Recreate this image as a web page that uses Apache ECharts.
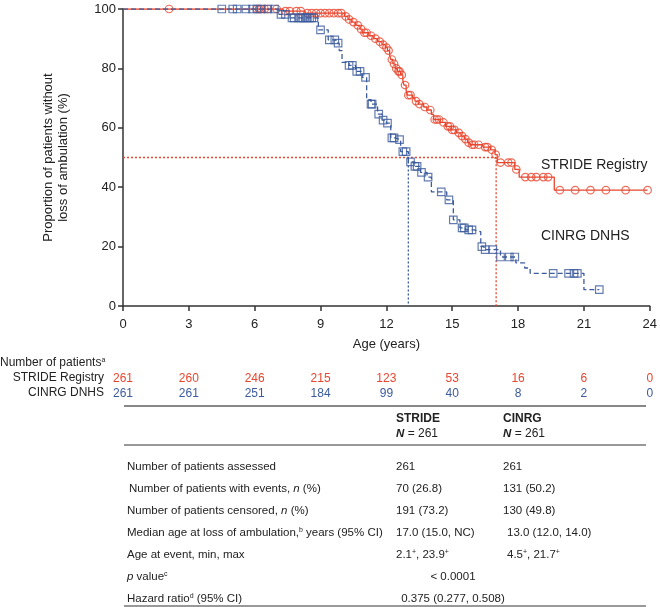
<!DOCTYPE html>
<html><head><meta charset="utf-8">
<script src="https://cdn.jsdelivr.net/npm/echarts@6/dist/echarts.min.js"></script>
<style>html,body{margin:0;padding:0;background:#fff}#c{width:660px;height:607px}</style>
</head><body><div id="c"></div>
<script>
// ---------- data ----------
const xTicks = [0, 3, 6, 9, 12, 15, 18, 21, 24];
const strideAtRisk = [261, 260, 246, 215, 123, 53, 16, 6, 0];
const cinrgAtRisk = [261, 261, 251, 184, 99, 40, 8, 2, 0];

// Kaplan-Meier steps: [age at which survival changes, survival after change (%)]
const strideSteps = [[0,100],[7.3,99.3],[8.3,98.6],[10.1,97.5],[10.25,96.5],[10.4,95.6],[10.6,94.5],[10.8,93.2],[10.9,92],[11.2,91],[11.4,90],[11.6,89],[11.8,88],[11.95,87],[12.05,86],[12.15,84.5],[12.2,83],[12.3,81.5],[12.4,80],[12.5,79],[12.65,77.8],[12.75,76],[12.8,74.4],[12.9,72.7],[12.95,71],[13.2,70],[13.3,69],[13.45,68],[13.7,67],[13.85,66],[14.05,64.5],[14.15,62.8],[14.45,61.8],[14.7,60.5],[14.95,59.3],[15.2,58.3],[15.4,57.2],[15.55,56.2],[15.7,55],[15.8,54.3],[16.4,53.5],[16.75,52.6],[16.95,51],[17.05,48.3],[17.85,46],[18.05,43.4],[19.65,39],[23.9,39]];
const strideCensorAges = [2.1,6.1,6.2,6.3,6.45,6.6,7.0,7.4,7.6,7.9,8.1,8.4,8.6,8.8,9.0,9.2,9.4,9.6,9.8,9.95,10.15,10.3,10.5,10.7,10.85,11.0,11.1,11.3,11.5,11.7,11.85,12.0,12.1,12.25,12.35,12.45,12.55,12.6,12.7,12.85,13.0,13.1,13.35,13.5,13.75,14.0,14.2,14.3,14.4,14.6,14.8,14.9,15.0,15.1,15.3,15.45,15.6,15.75,15.9,16.0,16.2,16.5,16.6,16.8,16.98,17.2,17.55,17.7,17.92,18.33,18.6,18.83,19.15,19.37,19.9,20.6,21.3,22.0,22.9,23.9];

const cinrgSteps = [[0,100],[7.1,98.2],[7.6,97],[8.9,93],[9.35,89.6],[9.7,88.5],[9.85,86],[9.98,82],[10.3,81],[10.6,79],[10.9,77],[11.1,69.5],[11.3,68],[11.6,64.6],[11.8,62.6],[12.0,61.6],[12.2,56.6],[12.4,56],[12.65,52],[13.0,48.5],[13.3,47],[13.55,45],[13.85,43.4],[14.05,38.4],[14.75,35.7],[15.05,29],[15.35,26.3],[15.6,25.6],[16.0,25],[16.3,20],[16.45,19],[17.2,16.5],[17.9,14.5],[18.3,12.8],[18.55,11],[21.0,5.5],[21.7,5.5]];
const cinrgCensorAges = [4.5,5.0,5.2,5.6,5.9,6.1,6.3,6.6,6.9,7.2,7.4,7.7,7.8,8.0,8.1,8.2,8.3,8.4,8.5,8.6,8.7,9.0,9.4,9.65,9.8,10.3,10.45,10.65,10.8,11.05,11.3,11.35,11.65,11.85,12.05,12.25,12.35,12.6,12.75,12.9,13.1,13.3,13.4,13.6,13.9,14.5,14.85,15.05,15.45,15.55,15.75,15.9,16.35,16.5,16.85,17.2,17.6,17.85,19.6,20.3,20.55,20.7,21.7];

const strideMedian = 17.0;
const cinrgMedian = 13.0;
const medianLevel = 50;

const seriesNames = ['STRIDE Registry', 'CINRG DNHS'];
const tableHeader = [['STRIDE', '{bi|N} = 261'], ['CINRG', '{bi|N} = 261']];
const tableRows = [
  ['Number of patients assessed', '261', '261'],
  ['Number of patients with events, {i|n} (%)', '70 (26.8)', '131 (50.2)'],
  ['Number of patients censored, {i|n} (%)', '191 (73.2)', '130 (49.8)'],
  ['Median age at loss of ambulation,{sup|b} years (95% CI)', '17.0 (15.0, NC)', '13.0 (12.0, 14.0)'],
  ['Age at event, min, max', '2.1{sup|+}, 23.9{sup|+}', '4.5{sup|+}, 21.7{sup|+}'],
  ['{i|p} value{sup|c}', '< 0.0001'],
  ['Hazard ratio{sup|d} (95% CI)', '0.375 (0.277, 0.508)']
];

// ---------- chart ----------
const FONT = 'Liberation Sans, Arial, sans-serif';
const RED = '#E8462E', BLUE = '#3C5B9E', INK = '#222';
function survAt(steps, a) { let v = steps[0][1]; for (const s of steps) { if (s[0] <= a) v = s[1]; else break; } return v; }

const TFS = 11.5;
const rich = {
  i: { fontStyle: 'italic', fontSize: TFS, fontFamily: FONT, fill: INK },
  bi: { fontStyle: 'italic', fontWeight: 'bold', fontSize: TFS, fontFamily: FONT, fill: INK },
  sup: { fontSize: 7, fontFamily: FONT, verticalAlign: 'top', fill: INK }
};

const graphics = [];
function txt(x, y, text, opt) {
  graphics.push({ type: 'text', x: x, y: y, silent: true, style: Object.assign({
    text: text, fill: INK, fontSize: TFS, fontFamily: FONT, align: 'left', verticalAlign: 'middle', rich: rich
  }, opt || {}) });
}
function hline(x1, x2, y, color, w) {
  graphics.push({ type: 'line', silent: true, shape: { x1: x1, y1: y, x2: x2, y2: y }, style: { stroke: color, lineWidth: w } });
}

// at-risk labels
txt(0, 363, 'Number of patients{sup|a}', { fontSize: 12 });
txt(104, 378, seriesNames[0], { align: 'right', fontSize: 12 });
txt(104, 393, seriesNames[1], { align: 'right', fontSize: 12 });
// curve labels
txt(541, 165, seriesNames[0], { fontSize: 14 });
txt(541, 236, seriesNames[1], { fontSize: 14 });

// table
const colX = [127, 396, 503];
hline(124, 646, 406, '#888', 2);
tableHeader.forEach((h, k) => {
  txt(colX[k + 1], 419, h[0], { fontWeight: 'bold', fontSize: 12 });
  txt(colX[k + 1], 434, h[1], { fontSize: 12 });
});
hline(124, 646, 445, '#333', 1);
const rowY0 = 467, rowDy = 22;
tableRows.forEach((r, i) => {
  const y = rowY0 + i * rowDy;
  txt(colX[0] + (i === 1 ? 2 : 0), y, r[0]);
  if (r.length === 3) { txt(colX[1], y, r[1]); txt(colX[2] + (i >= 3 ? 4 : 0), y, r[2]); }
  else txt(453, y, r[1], { align: 'center' });
});
hline(124, 646, 606, '#333', 1);

const baseAxis = { type: 'value', min: 0, max: 24, interval: 3, gridIndex: 0, position: 'bottom', splitLine: { show: false } };

const option = {
  animation: false,
  backgroundColor: '#fff',
  textStyle: { fontFamily: FONT },
  grid: { left: 123, right: 8, top: 9, bottom: 301, containLabel: false },
  xAxis: [
    Object.assign({}, baseAxis, {
      axisLine: { lineStyle: { color: '#333', width: 1.5 } },
      axisTick: { length: 5, lineStyle: { color: '#333', width: 1.5 } },
      axisLabel: { color: INK, fontSize: 13, margin: 12, fontFamily: FONT },
      name: 'Age (years)', nameLocation: 'middle', nameGap: 32,
      nameTextStyle: { color: INK, fontSize: 13, fontFamily: FONT }
    }),
    Object.assign({}, baseAxis, {
      offset: 67, axisLine: { show: false }, axisTick: { show: false },
      axisLabel: { color: RED, fontSize: 12, margin: 0, fontFamily: FONT, formatter: v => String(strideAtRisk[xTicks.indexOf(v)]) }
    }),
    Object.assign({}, baseAxis, {
      offset: 82, axisLine: { show: false }, axisTick: { show: false },
      axisLabel: { color: BLUE, fontSize: 12, margin: 0, fontFamily: FONT, formatter: v => String(cinrgAtRisk[xTicks.indexOf(v)]) }
    })
  ],
  yAxis: {
    type: 'value', min: 0, max: 100, interval: 20,
    axisLine: { show: true, lineStyle: { color: '#333', width: 1.5 } },
    axisTick: { show: true, length: 5, lineStyle: { color: '#333', width: 1.5 } },
    axisLabel: { color: INK, fontSize: 13, margin: 7, fontFamily: FONT },
    splitLine: { show: false },
    name: 'Proportion of patients without\nloss of ambulation (%)',
    nameLocation: 'middle', nameGap: 52, nameRotate: 90,
    nameTextStyle: { color: INK, fontSize: 13, lineHeight: 15, fontFamily: FONT }
  },
  graphic: graphics,
  series: [
    { type: 'line', data: [[0, medianLevel], [strideMedian, medianLevel], [strideMedian, 0]], showSymbol: false, silent: true,
      itemStyle: { color: RED }, lineStyle: { color: RED, width: 1.3, type: [2, 2], opacity: 1 }, z: 1 },
    { type: 'line', data: [[cinrgMedian, medianLevel], [cinrgMedian, 0]], showSymbol: false, silent: true,
      itemStyle: { color: BLUE }, lineStyle: { color: BLUE, width: 1.3, type: [2, 2] }, z: 1 },
    { name: seriesNames[0], type: 'line', step: 'end', data: strideSteps, showSymbol: false, silent: true,
      itemStyle: { color: RED }, lineStyle: { color: RED, width: 1.3 }, z: 2 },
    { name: seriesNames[0], type: 'scatter', data: strideCensorAges.map(a => [a, survAt(strideSteps, a)]), symbol: 'circle', symbolSize: 7.5, silent: true,
      itemStyle: { color: 'rgba(255,255,255,0)', borderColor: RED, borderWidth: 1.2 }, z: 3 },
    { name: seriesNames[1], type: 'line', step: 'end', data: cinrgSteps, showSymbol: false, silent: true,
      itemStyle: { color: BLUE }, lineStyle: { color: BLUE, width: 1.3, type: [5, 3] }, z: 4 },
    { name: seriesNames[1], type: 'scatter', data: cinrgCensorAges.map(a => [a, survAt(cinrgSteps, a)]), symbol: 'rect', symbolSize: 7.5, silent: true,
      itemStyle: { color: 'rgba(255,255,255,0)', borderColor: BLUE, borderWidth: 1.2 }, z: 5 }
  ]
};
const chart = echarts.init(document.getElementById('c'));
chart.setOption(option);
</script>
</body></html>
